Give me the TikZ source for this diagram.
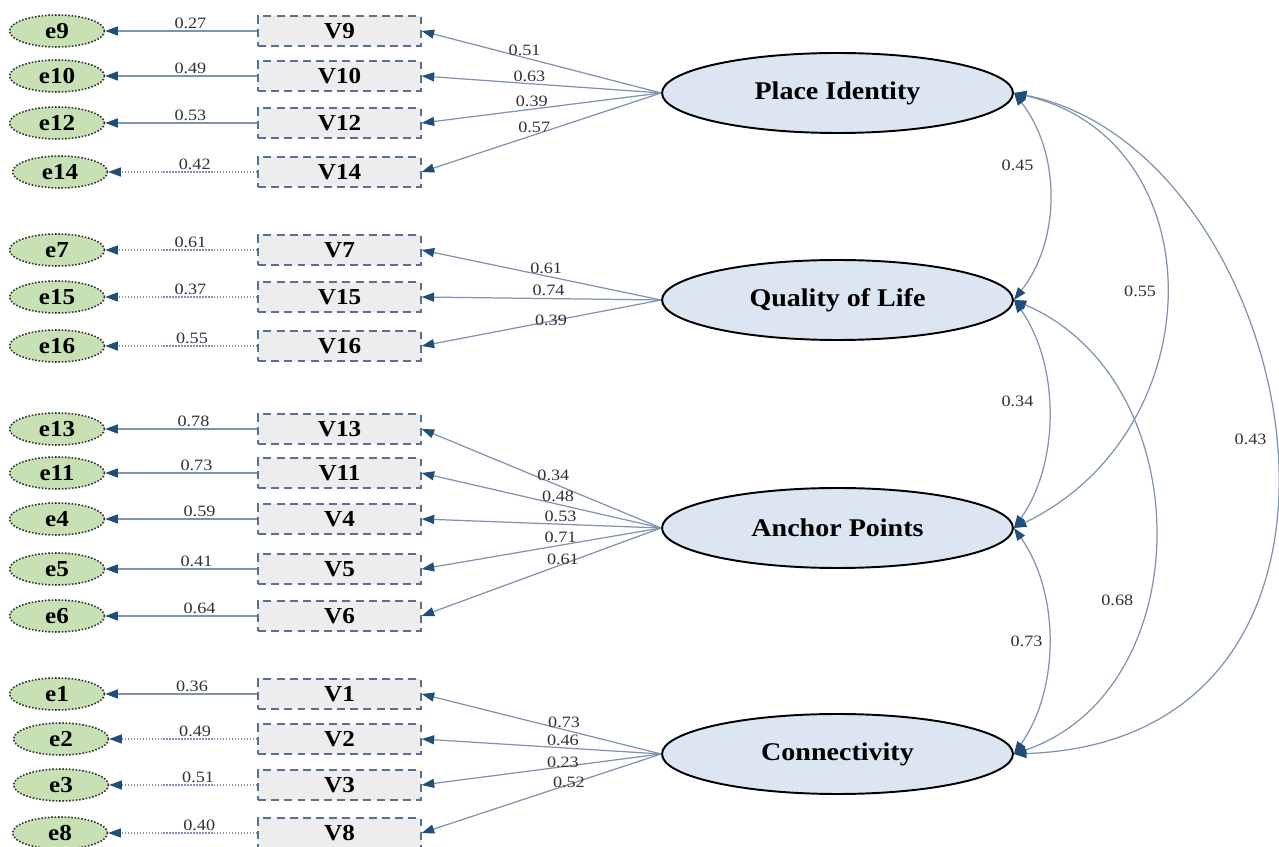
\documentclass[tikz,border=0pt]{standalone}
\usepackage{fontspec}
\setmainfont{Liberation Serif}
\newfontfamily\numfont[FakeStretch=1.15]{Liberation Serif}
\newfontfamily\boldfont[FakeStretch=1.1]{Liberation Serif Bold}
\usetikzlibrary{arrows.meta,shapes.geometric}
\definecolor{latfill}{RGB}{220,230,242}
\definecolor{errfill}{RGB}{200,225,180}
\definecolor{boxfill}{RGB}{237,237,237}
\definecolor{boxline}{RGB}{90,112,144}
\definecolor{linecol}{RGB}{127,147,176}
\definecolor{headcol}{RGB}{31,78,121}
\definecolor{numcol}{RGB}{50,50,50}
\begin{document}
\begin{tikzpicture}[x=0.02cm,y=-0.02cm,
  lat/.style={ellipse,draw=black,line width=1.1pt,fill=latfill,minimum width=7.02cm,minimum height=1.6cm,inner sep=0pt,font=\boldfont\fontsize{14.5}{16}\selectfont},
  err/.style={ellipse,draw=black!80,densely dotted,line width=0.9pt,fill=errfill,minimum width=1.9cm,minimum height=0.64cm,inner sep=0pt,font=\boldfont\fontsize{13}{15}\selectfont},
  obs/.style={rectangle,draw=boxline,dash pattern=on 4.5pt off 3pt,line width=0.8pt,fill=boxfill,minimum width=3.26cm,minimum height=0.6cm,inner sep=0pt,font=\boldfont\fontsize{13}{15}\selectfont},
  tip/.style={-{Triangle[length=2.5mm,width=1.8mm,color=headcol]}},
  load/.style={draw=linecol,line width=0.7pt,tip},
  eline/.style={draw=linecol,line width=0.7pt,tip},
  edot/.style={eline,densely dotted},
  cov/.style={draw=linecol,line width=0.7pt,{Triangle[length=2.5mm,width=1.8mm,color=headcol]}-{Triangle[length=2.5mm,width=1.8mm,color=headcol]}},
  lab/.style={above,inner sep=1pt,text=numcol,font=\numfont\fontsize{9}{10}\selectfont},
  clab/.style={inner sep=1pt,text=numcol,font=\numfont\fontsize{9}{10}\selectfont}
]
\useasboundingbox[fill=white] (0,0) rectangle (1279,847);

% latent variables
\node[lat] (PI) at (837.5,93) {Place Identity};
\node[lat] (QL) at (837.5,300) {Quality of Life};
\node[lat] (AP) at (837.5,528) {Anchor Points};
\node[lat] (CN) at (837.5,754) {Connectivity};

% observed boxes
\foreach \n/\y in {9/31,10/76,12/123,14/172,7/250,15/297,16/346,13/429,11/473,4/519,5/569,6/616,1/694,2/739,3/785,8/833}
  \node[obs] (V\n) at (339.5,\y) {V\n};

% error ellipses
\foreach \n/\x/\y in {9/57/31,10/57/76,12/57/123,14/60/172,7/57/250,15/57/297,16/57/346,13/57/429,11/57/473,4/57/519,5/57/569,6/57/616,1/57/694,2/61/739,3/61/785,8/60/833}
  \node[err] (e\n) at (\x,\y) {e\n};

% error paths
\draw[eline] (V9.west) -- node[lab,pos=.44]{0.27} (e9.east);
\draw[eline] (V10.west) -- node[lab,pos=.44]{0.49} (e10.east);
\draw[eline] (V12.west) -- node[lab,pos=.44]{0.53} (e12.east);
\draw[edot] (V14.west) -- node[lab,pos=.42]{0.42} (e14.east);
\draw[edot] (V7.west) -- node[lab,pos=.44]{0.61} (e7.east);
\draw[edot] (V15.west) -- node[lab,pos=.44]{0.37} (e15.east);
\draw[edot] (V16.west) -- node[lab,pos=.43]{0.55} (e16.east);
\draw[eline] (V13.west) -- node[lab,pos=.42]{0.78} (e13.east);
\draw[eline] (V11.west) -- node[lab,pos=.40]{0.73} (e11.east);
\draw[eline] (V4.west) -- node[lab,pos=.38]{0.59} (e4.east);
\draw[eline] (V5.west) -- node[lab,pos=.40]{0.41} (e5.east);
\draw[eline] (V6.west) -- node[lab,pos=.38]{0.64} (e6.east);
\draw[eline] (V1.west) -- node[lab,pos=.43]{0.36} (e1.east);
\draw[edot] (V2.west) -- node[lab,pos=.42]{0.49} (e2.east);
\draw[edot] (V3.west) -- node[lab,pos=.40]{0.51} (e3.east);
\draw[edot] (V8.west) -- node[lab,pos=.39]{0.40} (e8.east);

% loadings
\draw[load] (PI.west) -- node[lab,pos=.57]{0.51} (V9.east);
\draw[load] (PI.west) -- node[lab,pos=.55]{0.63} (V10.east);
\draw[load] (PI.west) -- node[lab,pos=.54]{0.39} (V12.east);
\draw[load] (PI.west) -- node[lab,pos=.53]{0.57} (V14.east);

\draw[load] (QL.west) -- node[lab,pos=.48]{0.61} (V7.east);
\draw[load] (QL.west) -- node[lab,pos=.47]{0.74} (V15.east);
\draw[load] (QL.west) -- node[lab,pos=.46,yshift=-4pt]{0.39} (V16.east);

\draw[load] (AP.west) -- node[lab,pos=.45]{0.34} (V13.east);
\draw[load] (AP.west) -- node[lab,pos=.43]{0.48} (V11.east);
\draw[load] (AP.west) -- node[lab,pos=.42]{0.53} (V4.east);
\draw[load] (AP.west) -- node[lab,pos=.42]{0.71} (V5.east);
\draw[load] (AP.west) -- node[lab,pos=.41,yshift=-2pt]{0.61} (V6.east);

\draw[load] (CN.west) -- node[lab,pos=.405]{0.73} (V1.east);
\draw[load] (CN.west) -- node[lab,pos=.41]{0.46} (V2.east);
\draw[load] (CN.west) -- node[lab,pos=.41,yshift=-2pt]{0.23} (V3.east);
\draw[load] (CN.west) -- node[lab,pos=.385,yshift=-3pt]{0.52} (V8.east);

% covariances
\draw[cov] (PI.east) .. controls +(47,60) and +(47,-60) .. node[clab,pos=.36,left=6pt]{0.45} (QL.east);
\draw[cov] (QL.east) .. controls +(46,65) and +(46,-65) .. node[clab,pos=.45,left=7pt]{0.34} (AP.east);
\draw[cov] (AP.east) .. controls +(46,65) and +(46,-65) .. node[clab,pos=.5,left=2pt]{0.73} (CN.east);
\draw[cov] (PI.east) .. controls +(202,46) and +(202,-98) .. node[clab,pos=.5,left=4pt]{0.55} (AP.east);
\draw[cov] (QL.east) .. controls +(187,80) and +(187,-64) .. node[clab,pos=.62,left=6pt]{0.68} (CN.east);
\draw[cov] (PI.east) .. controls +(287,56) and +(407,-14) .. node[clab,pos=.5,left=3pt]{0.43} (CN.east);
\end{tikzpicture}
\end{document}
